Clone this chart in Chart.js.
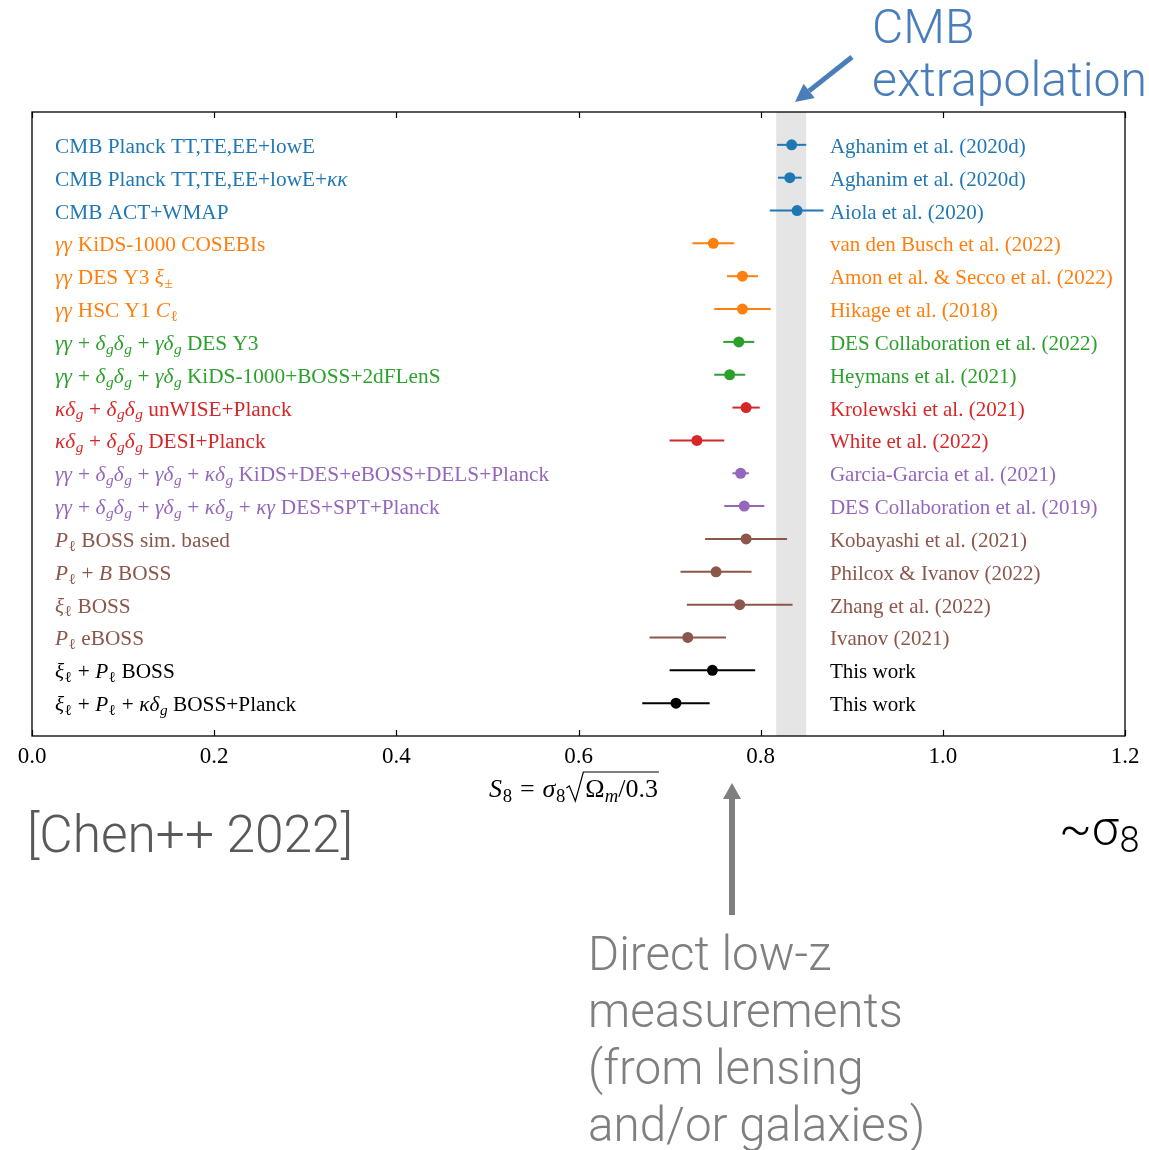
<!DOCTYPE html>
<html><head><meta charset="utf-8">
<script src="https://cdn.jsdelivr.net/npm/chart.js@4.4.1/dist/chart.umd.min.js"></script>
<style>html,body{margin:0;padding:0;background:#fff}canvas{display:block}</style>
</head><body>
<canvas id="c" width="1149" height="1150"></canvas>
<script>
// ---------------- data ----------------
const rowLabels = [
 'CMB Planck TT,TE,EE+lowE',
 'CMB Planck TT,TE,EE+lowE+$κκ$',
 'CMB ACT+WMAP',
 '$γγ$ KiDS-1000 COSEBIs',
 '$γγ$ DES Y3 $ξ_±$',
 '$γγ$ HSC Y1 $C_ℓ$',
 '$γγ+δ_gδ_g+γδ_g$ DES Y3',
 '$γγ+δ_gδ_g+γδ_g$ KiDS-1000+BOSS+2dFLenS',
 '$κδ_g+δ_gδ_g$ unWISE+Planck',
 '$κδ_g+δ_gδ_g$ DESI+Planck',
 '$γγ+δ_gδ_g+γδ_g+κδ_g$ KiDS+DES+eBOSS+DELS+Planck',
 '$γγ+δ_gδ_g+γδ_g+κδ_g+κγ$ DES+SPT+Planck',
 '$P_ℓ$ BOSS sim. based',
 '$P_ℓ+B$ BOSS',
 '$ξ_ℓ$ BOSS',
 '$P_ℓ$ eBOSS',
 '$ξ_ℓ+P_ℓ$ BOSS',
 '$ξ_ℓ+P_ℓ+κδ_g$ BOSS+Planck'
];
const references = [
 'Aghanim et al. (2020d)',
 'Aghanim et al. (2020d)',
 'Aiola et al. (2020)',
 'van den Busch et al. (2022)',
 'Amon et al. & Secco et al. (2022)',
 'Hikage et al. (2018)',
 'DES Collaboration et al. (2022)',
 'Heymans et al. (2021)',
 'Krolewski et al. (2021)',
 'White et al. (2022)',
 'Garcia-Garcia et al. (2021)',
 'DES Collaboration et al. (2019)',
 'Kobayashi et al. (2021)',
 'Philcox & Ivanov (2022)',
 'Zhang et al. (2022)',
 'Ivanov (2021)',
 'This work',
 'This work'
];
const s8Central = [0.834,0.832,0.840,0.748,0.780,0.780,0.776,0.766,0.784,0.730,0.778,0.782,0.784,0.751,0.777,0.720,0.747,0.707];
const s8Lower   = [0.818,0.819,0.810,0.725,0.763,0.749,0.759,0.749,0.769,0.700,0.769,0.760,0.739,0.712,0.719,0.678,0.700,0.670];
const s8Upper   = [0.850,0.845,0.869,0.771,0.797,0.811,0.793,0.783,0.799,0.760,0.787,0.804,0.829,0.790,0.835,0.762,0.794,0.744];
const rowGroups = ['cmb','cmb','cmb','shear','shear','shear','x3','x3','kappa','kappa','comb','comb','gal','gal','gal','gal','this','this'];
const groupColors = {cmb:'#1f77b4', shear:'#ff7f0e', x3:'#2ca02c', kappa:'#d62728', comb:'#9467bd', gal:'#8c564b', this:'#000000'};
const xTicks = [0.0,0.2,0.4,0.6,0.8,1.0,1.2];
const cmbBand = [0.817,0.850];

// ---------------- helpers ----------------
const SERIF = '"Liberation Serif","DejaVu Serif",serif';
const SANS = 'Roboto,"Liberation Sans",sans-serif';
function tokens(s){
  const out=[]; let math=false;
  const isLetter=c=>/[A-Za-zα-ω]/.test(c);
  for(let i=0;i<s.length;i++){
    let c=s[i];
    if(c==='$'){math=!math;continue;}
    if(!math){out.push({t:c,it:false,sub:false});continue;}
    if(c==='_'){c=s[++i];out.push({t:c,it:isLetter(c),sub:true});continue;}
    if(c==='+'||c==='='){out.push({t:c,it:false,sub:false,op:true});continue;}
    out.push({t:c,it:isLetter(c),sub:false});
  }
  const runs=[];
  for(const k of out){
    const last=runs[runs.length-1];
    if(last&&!k.op&&!last.op&&last.it===k.it&&last.sub===k.sub) last.t+=k.t;
    else runs.push(Object.assign({},k));
  }
  return runs;
}
function drawRich(ctx,s,x,y,size,color,opSp){
  const runs=tokens(s); let cx=x;
  const sp=(opSp===undefined?0.26:opSp)*size;
  ctx.textAlign='left'; ctx.textBaseline='alphabetic';
  for(const r of runs){
    const fs=r.sub?size*0.72:size;
    ctx.font=(r.it?'italic ':'')+fs+'px '+SERIF;
    if(r.op) cx+=sp;
    const w=ctx.measureText(r.t).width;
    ctx.fillStyle=color;ctx.fillText(r.t,cx,y+(r.sub?size*0.18:0));
    cx+=w+(r.it&&!r.sub?size*0.03:0);
    if(r.op) cx+=sp;
  }
  return cx-x;
}
function fitSize(ctx,text,target,weight,family){
  ctx.font=weight+' 100px '+family;
  return 100*target/ctx.measureText(text).width;
}
function arrow(ctx,x1,y1,x2,y2,color,lw,headLen,headW){
  const ang=Math.atan2(y2-y1,x2-x1);
  const bx=x2-headLen*Math.cos(ang), by=y2-headLen*Math.sin(ang);
  ctx.strokeStyle=color; ctx.fillStyle=color; ctx.lineWidth=lw; ctx.lineCap='butt';
  ctx.beginPath(); ctx.moveTo(x1,y1); ctx.lineTo(bx,by); ctx.stroke();
  ctx.beginPath(); ctx.moveTo(x2,y2);
  ctx.lineTo(bx+headW/2*Math.sin(ang),by-headW/2*Math.cos(ang));
  ctx.lineTo(bx-headW/2*Math.sin(ang),by+headW/2*Math.cos(ang));
  ctx.closePath(); ctx.fill();
}

// ---------------- datasets ----------------
const datasets=[];
s8Central.forEach((v,i)=>{
  datasets.push({type:'line',data:[{x:s8Lower[i],y:i},{x:s8Upper[i],y:i}],borderColor:groupColors[rowGroups[i]],borderWidth:2,pointRadius:0,showLine:true,fill:false});
});
datasets.push({type:'scatter',data:s8Central.map((v,i)=>({x:v,y:i})),pointRadius:5.5,pointBorderWidth:0,
  pointBackgroundColor:rowGroups.map(g=>groupColors[g]),pointBorderColor:rowGroups.map(g=>groupColors[g])});

const decor={
  id:'decor',
  beforeDatasetsDraw(chart){
    const {ctx,chartArea:a,scales:{x}}=chart;
    ctx.save();
    ctx.fillStyle='#e5e5e5';
    const x1=x.getPixelForValue(cmbBand[0]), x2=x.getPixelForValue(cmbBand[1]);
    ctx.fillRect(x1,a.top,x2-x1,a.bottom-a.top);
    ctx.restore();
  },
  afterDraw(chart){
    const {ctx,chartArea:a,scales:{x,y}}=chart;
    ctx.save();
    // frame
    ctx.strokeStyle='#000'; ctx.lineWidth=1.3;
    ctx.strokeRect(a.left,a.top,a.right-a.left,a.bottom-a.top);
    // inward ticks
    ctx.lineWidth=1.2;
    xTicks.forEach(t=>{
      const px=Math.round(x.getPixelForValue(t))+0.5;
      ctx.beginPath(); ctx.moveTo(px,a.bottom); ctx.lineTo(px,a.bottom-6);
      ctx.moveTo(px,a.top); ctx.lineTo(px,a.top+6); ctx.stroke();
    });
    // row labels
    rowLabels.forEach((s,i)=>{
      const py=y.getPixelForValue(i);
      const col=groupColors[rowGroups[i]];
      drawRich(ctx,s,a.left+23,py+8,21.3,col);
      ctx.font='21px '+SERIF; ctx.fillStyle=col; ctx.textAlign='left';
      ctx.fillText(references[i],x.getPixelForValue(0.876),py+8);
    });
    // axis title  S8 = sigma8 sqrt(Omega_m/0.3)
    const tb=797, ts=26;
    let tx=489;
    tx+=drawRich(ctx,'$S_8=σ_8$',tx,tb,ts,'#000',0.3);
    const r0=tx;
    tx+=19;
    const w2=drawRich(ctx,'$Ω_m/0.3$',tx+1,tb,ts,'#000');
    ctx.strokeStyle='#000'; ctx.lineWidth=1.2;
    ctx.beginPath();
    ctx.moveTo(r0+1,tb-9); ctx.lineTo(r0+4,tb-11); ctx.lineTo(r0+10,tb+4); ctx.lineTo(r0+18,tb-25); ctx.lineTo(tx+w2+2,tb-25);
    ctx.stroke();

    // ---- slide annotations ----
    const blue='#4a7ebb';
    let fs=fitSize(ctx,'extrapolation',275,'300',SANS);
    ctx.font='300 '+fs+'px '+SANS; ctx.fillStyle=blue; ctx.textAlign='left'; ctx.textBaseline='alphabetic';
    ctx.fillText('CMB',872,43);
    ctx.fillText('extrapolation',872,96);
    arrow(ctx,852,57,795,102,blue,5,18,18);

    ctx.fillStyle='#595959';
    fs=fitSize(ctx,'[Chen++ 2022]',326,'300',SANS);
    ctx.font='300 '+fs+'px '+SANS;
    ctx.fillText('[Chen++ 2022]',27,852);

    ctx.fillStyle='#000';
    ctx.font='300 48px '+SANS;
    ctx.fillText('~σ',1059,845);
    const wsig=ctx.measureText('~σ').width;
    ctx.font='300 36px '+SANS;
    ctx.fillText('8',1059+wsig+1,852);

    const grey='#7f7f7f';
    arrow(ctx,732,915,732,783,grey,6,16,18);
    fs=fitSize(ctx,'measurements',315,'300',SANS);
    ctx.font='300 '+fs+'px '+SANS; ctx.fillStyle=grey;
    ['Direct low-z','measurements','(from lensing','and/or galaxies)'].forEach((l,k)=>{
      ctx.fillText(l,588,970+k*57);
    });
    ctx.restore();
  }
};

new Chart(document.getElementById('c'),{
  type:'scatter',
  data:{datasets},
  options:{
    responsive:false, animation:false, devicePixelRatio:1,
    layout:{padding:{left:32,right:24,top:112,bottom:374}},
    plugins:{legend:{display:false},tooltip:{enabled:false}},
    scales:{
      x:{type:'linear',min:0,max:1.2,
        afterBuildTicks(s){s.ticks=xTicks.map(v=>({value:v}));},
        afterFit(s){s.height=40;},
        grid:{display:false,drawTicks:false},border:{display:false},
        ticks:{padding:7,color:'#000',font:{family:SERIF,size:23},callback:v=>Number(v).toFixed(1)}},
      y:{type:'linear',min:-1,max:18,reverse:true,display:false}
    }
  },
  plugins:[decor]
});
</script>
</body></html>
